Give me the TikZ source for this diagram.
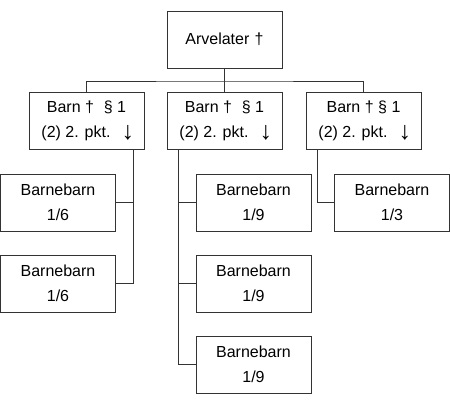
\documentclass[tikz,border=0pt]{standalone}
\usepackage{fontspec}
\setmainfont{Liberation Sans}
\begin{document}
\begin{tikzpicture}[x=1pt,y=-1pt,
  box/.style={draw=black!80,line width=1pt,minimum width=115pt,minimum height=57pt,inner sep=0pt,align=center,font=\fontsize{16}{25}\selectfont},
  conn/.style={draw=black!80,line width=1pt}]
\useasboundingbox (0,0) rectangle (450,405);
\newcommand{\dn}{\raisebox{-2pt}{\fontsize{25}{25}\selectfont\bfseries ↓}}
\node[box] (top) at (224.5,39.5) {Arvelater\,\,†};
\node[box] (b1) at (86.5,121) {Barn †\,\, § 1\\\,(2) 2. pkt.\,\, \dn};
\node[box] (b2) at (224.5,121) {Barn †\,\, § 1\\\,(2) 2. pkt.\,\, \dn};
\node[box] (b3) at (363.5,121) {Barn † § 1\\\,(2) 2. pkt.\,\, \dn};
\node[box] (g11) at (58,202.5) {Barnebarn\\1/6};
\node[box] (g12) at (58,283.5) {Barnebarn\\1/6};
\node[box] (g21) at (253.5,202.5) {Barnebarn\\1/9};
\node[box] (g22) at (253.5,283.5) {Barnebarn\\1/9};
\node[box] (g23) at (253.5,364.5) {Barnebarn\\1/9};
\node[box] (g31) at (392,202.5) {Barnebarn\\1/3};
\coordinate (bus) at (224.5,81);
\draw[conn] (top.south) -- (b2.north);
\draw[conn] (b1.north) |- (bus) -| (b3.north);
\draw[conn] ([xshift=-11pt]b1.south east) |- (g11.east);
\draw[conn] ([xshift=-11pt]b1.south east) |- (g12.east);
\draw[conn] ([xshift=12pt]b2.south west) |- (g21.west);
\draw[conn] ([xshift=12pt]b2.south west) |- (g22.west);
\draw[conn] ([xshift=12pt]b2.south west) |- (g23.west);
\draw[conn] ([xshift=12pt]b3.south west) |- (g31.west);
\end{tikzpicture}
\end{document}
